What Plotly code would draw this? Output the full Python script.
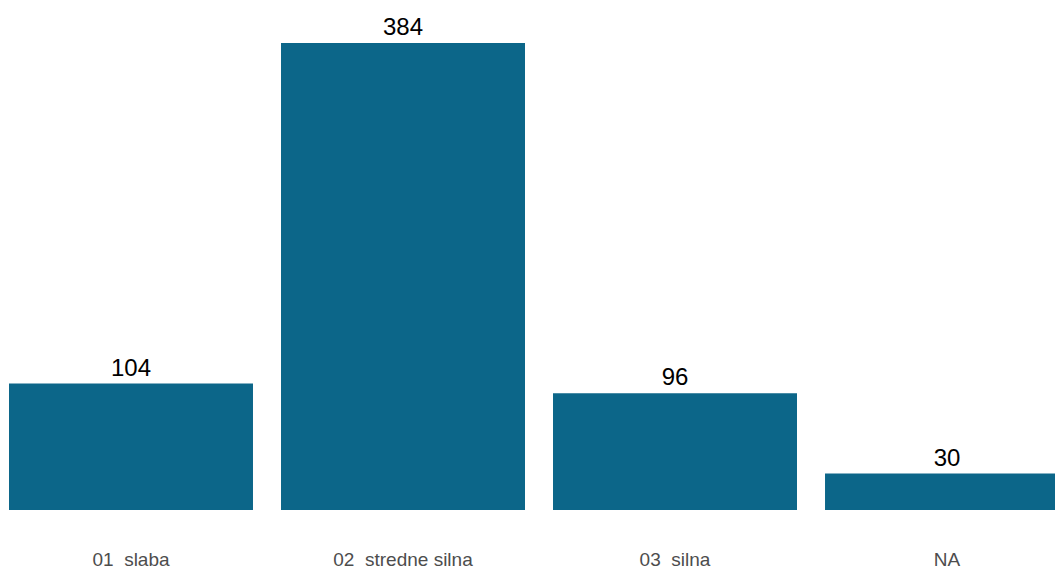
import plotly.graph_objects as go

categories = ["01  slaba", "02  stredne silna", "03  silna", "NA"]
counts = [104, 384, 96, 30]

fig = go.Figure(
    go.Bar(
        x=categories,
        y=counts,
        text=[str(v) for v in counts],
        textposition="outside",
        textfont=dict(family="Liberation Sans, Arial, sans-serif", size=24, color="#000000"),
        marker=dict(color="#0C6689", line=dict(width=0)),
        cliponaxis=False,
    )
)

fig.update_layout(
    width=1055,
    height=569,
    margin=dict(l=0, r=0, t=0, b=59),
    paper_bgcolor="white",
    plot_bgcolor="white",
    bargap=0.103,
    showlegend=False,
    font=dict(family="Liberation Sans, Arial, sans-serif"),
)
fig.update_xaxes(
    range=[-0.4816, 3.397],
    showgrid=False,
    zeroline=False,
    showline=False,
    ticks="",
    ticklabelstandoff=36,
    tickfont=dict(size=19, color="#4D4D4D"),
)
fig.update_yaxes(
    range=[0, 419.4],
    showgrid=False,
    zeroline=False,
    showline=False,
    showticklabels=False,
    ticks="",
)

fig.write_html(
    "out.html",
    config={"displayModeBar": False},
    post_script="document.body.style.margin='0';document.body.style.overflow='hidden';",
)
